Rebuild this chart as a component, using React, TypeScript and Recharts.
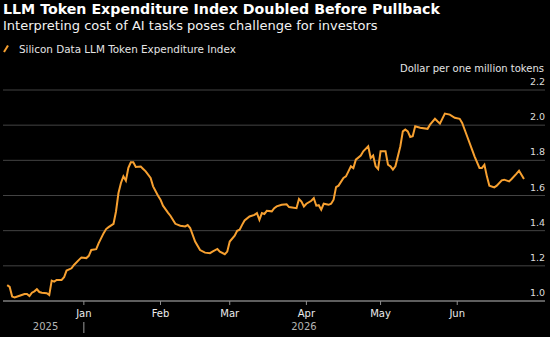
import { LineChart, Line, XAxis, YAxis, CartesianGrid } from 'recharts';

// Daily readings of the index (dollar per one million tokens)
const dates = [
  '2025-12-01', '2025-12-02', '2025-12-03', '2025-12-04', '2025-12-06', '2025-12-08', '2025-12-09',
  '2025-12-10', '2025-12-11', '2025-12-12', '2025-12-13', '2025-12-14', '2025-12-15', '2025-12-17',
  '2025-12-18', '2025-12-19', '2025-12-20', '2025-12-21', '2025-12-23', '2025-12-24', '2025-12-25',
  '2025-12-27', '2025-12-28', '2025-12-30', '2025-12-31', '2026-01-02', '2026-01-03', '2026-01-04',
  '2026-01-06', '2026-01-07', '2026-01-09', '2026-01-10', '2026-01-11', '2026-01-13', '2026-01-14',
  '2026-01-15', '2026-01-16', '2026-01-17', '2026-01-18', '2026-01-19', '2026-01-20', '2026-01-21',
  '2026-01-22', '2026-01-24', '2026-01-25', '2026-01-26', '2026-01-28', '2026-01-29', '2026-01-31',
  '2026-02-01', '2026-02-02', '2026-02-04', '2026-02-05', '2026-02-06', '2026-02-07', '2026-02-09',
  '2026-02-11', '2026-02-12', '2026-02-13', '2026-02-15', '2026-02-17', '2026-02-19', '2026-02-21',
  '2026-02-22', '2026-02-24', '2026-02-25', '2026-02-27', '2026-02-28', '2026-03-01', '2026-03-03',
  '2026-03-04', '2026-03-05', '2026-03-06', '2026-03-07', '2026-03-09', '2026-03-11', '2026-03-12',
  '2026-03-13', '2026-03-14', '2026-03-15', '2026-03-16', '2026-03-18', '2026-03-19', '2026-03-20',
  '2026-03-22', '2026-03-24', '2026-03-25', '2026-03-28', '2026-03-29', '2026-03-30', '2026-03-31',
  '2026-04-01', '2026-04-03', '2026-04-04', '2026-04-05', '2026-04-06', '2026-04-07', '2026-04-08',
  '2026-04-10', '2026-04-11', '2026-04-12', '2026-04-13', '2026-04-14', '2026-04-16', '2026-04-17',
  '2026-04-18', '2026-04-19', '2026-04-20', '2026-04-21', '2026-04-23', '2026-04-24', '2026-04-26',
  '2026-04-27', '2026-04-28', '2026-04-29', '2026-04-30', '2026-05-01', '2026-05-03', '2026-05-04',
  '2026-05-05', '2026-05-06', '2026-05-07', '2026-05-09', '2026-05-10', '2026-05-11', '2026-05-12',
  '2026-05-13', '2026-05-14', '2026-05-15', '2026-05-17', '2026-05-20', '2026-05-21', '2026-05-23',
  '2026-05-24', '2026-05-25', '2026-05-27', '2026-05-29', '2026-05-31', '2026-06-02', '2026-06-03',
  '2026-06-05', '2026-06-07', '2026-06-08', '2026-06-10', '2026-06-11', '2026-06-12', '2026-06-13',
  '2026-06-14', '2026-06-16', '2026-06-17', '2026-06-19', '2026-06-20', '2026-06-22', '2026-06-23',
  '2026-06-25', '2026-06-26', '2026-06-28',
];

const indexValues = [
  1.09, 1.08, 1.025, 1.02, 1.03, 1.04, 1.04,
  1.028, 1.047, 1.055, 1.067, 1.051, 1.047, 1.044,
  1.034, 1.116, 1.11, 1.12, 1.12, 1.135, 1.173,
  1.186, 1.205, 1.234, 1.247, 1.244, 1.257, 1.29,
  1.295, 1.329, 1.386, 1.409, 1.42, 1.439, 1.509,
  1.614, 1.671, 1.709, 1.684, 1.757, 1.789, 1.789,
  1.762, 1.765, 1.751, 1.737, 1.7, 1.652, 1.599,
  1.576, 1.542, 1.503, 1.485, 1.462, 1.439, 1.428,
  1.424, 1.432, 1.415, 1.338, 1.29, 1.275, 1.272,
  1.281, 1.296, 1.281, 1.266, 1.281, 1.338, 1.371,
  1.399, 1.405, 1.433, 1.458, 1.481, 1.49, 1.5,
  1.462, 1.5, 1.495, 1.513, 1.51, 1.528, 1.538,
  1.547, 1.55, 1.534, 1.528, 1.58, 1.566, 1.538,
  1.553, 1.57, 1.585, 1.542, 1.545, 1.519, 1.553,
  1.547, 1.553, 1.576, 1.648, 1.656, 1.7, 1.709,
  1.737, 1.766, 1.756, 1.804, 1.827, 1.851, 1.88,
  1.813, 1.827, 1.766, 1.751, 1.851, 1.851, 1.775,
  1.766, 1.747, 1.766, 1.88, 1.965, 1.975, 1.965,
  1.933, 1.937, 1.994, 1.985, 1.979, 2.003, 2.036,
  2.022, 2.009, 2.066, 2.06, 2.042, 2.036, 2.013,
  1.937, 1.861, 1.823, 1.757, 1.757, 1.775, 1.709,
  1.656, 1.646, 1.656, 1.686, 1.69, 1.68, 1.694,
  1.724, 1.741, 1.694,
];

const monthStarts = ['2026-01-01', '2026-02-01', '2026-03-01', '2026-04-01', '2026-05-01', '2026-06-01'];
const monthLabels = ['Jan', 'Feb', 'Mar', 'Apr', 'May', 'Jun'];
const yTicks = [1.0, 1.2, 1.4, 1.6, 1.8, 2.0, 2.2];
const years = ['2025', '2026'];

const ORANGE = '#f7a030';
const FONT = '"DejaVu Sans", Verdana, sans-serif';

// days since Jan 1 2026
const toDay = (s: string) => {
  const [y, m, d] = s.split('-').map(Number);
  return (Date.UTC(y, m - 1, d) - Date.UTC(2026, 0, 1)) / 86400000;
};

const data = dates.map((d, i) => ({ day: toDay(d), value: indexValues[i] }));
const monthTicks = monthStarts.map(toDay);

// year labels sit in the middle of each year's stretch of data, split at Jan 1
const firstDay = data[0].day;
const lastDay = data[data.length - 1].day;
const yearBoundary = toDay('2026-01-01');
const yearMids = [(firstDay + yearBoundary) / 2, (yearBoundary + lastDay) / 2];
const yearTicks = [yearMids[0], yearBoundary, yearMids[1]];

const MonthTick = (props: any) => {
  const { x, y, payload } = props;
  const idx = monthTicks.indexOf(payload.value);
  return (
    <text x={x} y={y + 10} textAnchor="middle" fill="#ececec" fontSize={10} fontFamily={FONT}>
      {monthLabels[idx]}
    </text>
  );
};

const YearTick = (props: any) => {
  const { x, y, payload } = props;
  if (payload.value === yearBoundary) {
    return <line x1={x} x2={x} y1={y + 7} y2={y + 18} stroke="#9a9a9a" strokeWidth={1} />;
  }
  const idx = yearMids.indexOf(payload.value);
  return (
    <text x={x} y={y + 15} textAnchor="middle" fill="#b4b4b4" fontSize={10} fontFamily={FONT}>
      {years[idx]}
    </text>
  );
};

// value labels sit just above their gridline, flush with the right edge
const ValueTick = (props: any) => {
  const { x, y, payload } = props;
  return (
    <text x={x} y={y - 5} textAnchor="end" fill="#dcdcdc" fontSize={9.5} fontFamily={FONT}>
      {Number(payload.value).toFixed(1)}
    </text>
  );
};

const App = () => {
  return (
    <div style={{ position: 'absolute', left: 0, top: 0, width: 550, height: 337, background: '#000' }}>
      <LineChart width={550} height={337} data={data} margin={{ top: 90, right: 5, bottom: 6, left: 3 }}>
        <CartesianGrid horizontal vertical={false} stroke="#434343" />
        <XAxis
          dataKey="day"
          type="number"
          domain={[-32.7, 186.5]}
          ticks={monthTicks}
          interval={0}
          height={14}
          axisLine={{ stroke: '#5e5e5e', strokeWidth: 2 }}
          tickLine={{ stroke: '#8e8e8e' }}
          tickSize={4}
          tickMargin={2}
          tick={MonthTick}
        />
        <XAxis
          xAxisId="year"
          dataKey="day"
          type="number"
          domain={[-32.7, 186.5]}
          ticks={yearTicks}
          interval={0}
          height={16}
          axisLine={false}
          tickLine={false}
          tickSize={0}
          tickMargin={0}
          tick={YearTick}
        />
        <YAxis
          orientation="right"
          mirror
          width={1}
          domain={[1.0, 2.2]}
          ticks={yTicks}
          interval={0}
          axisLine={false}
          tickLine={false}
          tickSize={0}
          tickMargin={0}
          tick={ValueTick}
        />
        <Line
          type="linear"
          dataKey="value"
          stroke={ORANGE}
          strokeWidth={2}
          dot={false}
          isAnimationActive={false}
        />
      </LineChart>
      <svg
        width={550}
        height={90}
        style={{ position: 'absolute', left: 0, top: 0, pointerEvents: 'none' }}
        fontFamily={FONT}
      >
        <text x={3} y={13.5} fill="#ffffff" fontSize={14.2} fontWeight="bold">
          LLM Token Expenditure Index Doubled Before Pullback
        </text>
        <text x={3} y={30} fill="#f2f2f2" fontSize={13}>
          Interpreting cost of AI tasks poses challenge for investors
        </text>
        <line x1={4} y1={52} x2={8} y2={45.5} stroke={ORANGE} strokeWidth={2} />
        <text x={19} y={53.3} fill="#e4e4e4" fontSize={10.4}>
          Silicon Data LLM Token Expenditure Index
        </text>
        <text x={544} y={71.7} textAnchor="end" fill="#e4e4e4" fontSize={10}>
          Dollar per one million tokens
        </text>
      </svg>
    </div>
  );
};

export default App;
